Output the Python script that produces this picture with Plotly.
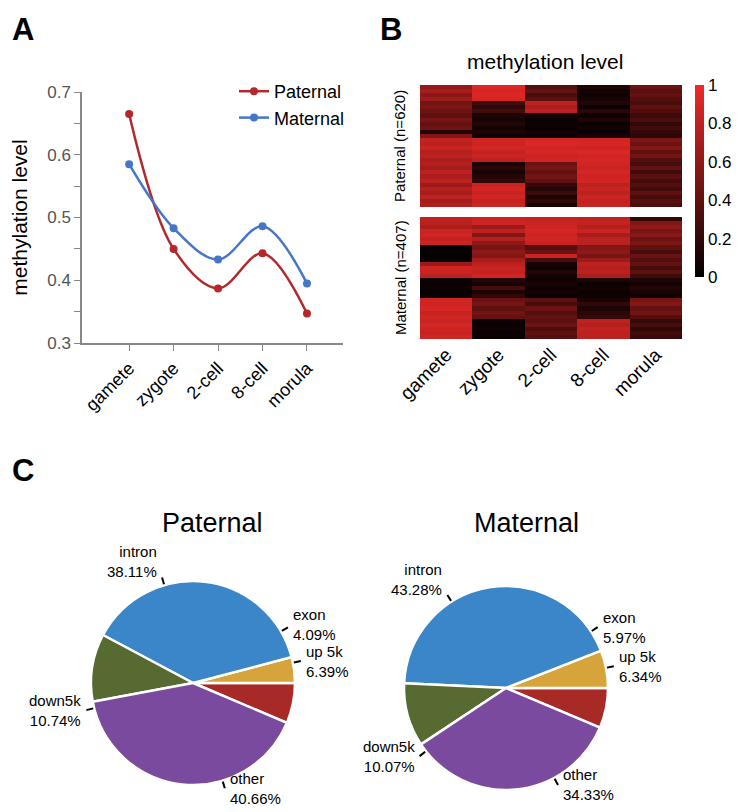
import math
import plotly.graph_objects as go

# ---- data ----
stages = ["gamete", "zygote", "2-cell", "8-cell", "morula"]
paternal_level = [0.665, 0.450, 0.387, 0.443, 0.347]
maternal_level = [0.585, 0.483, 0.433, 0.486, 0.395]

# heatmap rows (top to bottom), columns follow `stages`
heat_paternal = [
    [0.62, 0.92, 0.35, 0.12, 0.45],
    [0.70, 0.90, 0.42, 0.08, 0.38],
    [0.58, 0.93, 0.30, 0.06, 0.42],
    [0.66, 0.90, 0.38, 0.10, 0.35],
    [0.48, 0.25, 0.80, 0.14, 0.30],
    [0.52, 0.20, 0.72, 0.05, 0.40],
    [0.45, 0.28, 0.78, 0.18, 0.33],
    [0.40, 0.12, 0.08, 0.06, 0.25],
    [0.50, 0.10, 0.04, 0.12, 0.32],
    [0.42, 0.15, 0.06, 0.05, 0.20],
    [0.47, 0.08, 0.03, 0.08, 0.28],
    [0.15, 0.12, 0.07, 0.04, 0.22],
    [0.55, 0.06, 0.05, 0.10, 0.18],
    [0.82, 0.88, 0.90, 0.88, 0.52],
    [0.78, 0.85, 0.92, 0.90, 0.45],
    [0.85, 0.90, 0.88, 0.86, 0.55],
    [0.75, 0.82, 0.90, 0.92, 0.40],
    [0.80, 0.86, 0.85, 0.88, 0.48],
    [0.72, 0.80, 0.87, 0.90, 0.35],
    [0.76, 0.12, 0.45, 0.88, 0.30],
    [0.68, 0.18, 0.50, 0.85, 0.42],
    [0.80, 0.10, 0.42, 0.90, 0.25],
    [0.72, 0.15, 0.48, 0.86, 0.38],
    [0.78, 0.20, 0.40, 0.88, 0.28],
    [0.65, 0.85, 0.22, 0.80, 0.35],
    [0.75, 0.90, 0.15, 0.85, 0.28],
    [0.70, 0.84, 0.25, 0.78, 0.40],
    [0.80, 0.88, 0.12, 0.86, 0.30],
    [0.68, 0.82, 0.20, 0.82, 0.36],
    [0.74, 0.86, 0.10, 0.84, 0.32],
]
heat_maternal = [
    [0.80, 0.85, 0.82, 0.80, 0.20],
    [0.78, 0.88, 0.85, 0.82, 0.55],
    [0.72, 0.65, 0.88, 0.75, 0.60],
    [0.85, 0.80, 0.90, 0.85, 0.50],
    [0.88, 0.55, 0.86, 0.70, 0.58],
    [0.82, 0.75, 0.88, 0.80, 0.45],
    [0.86, 0.60, 0.84, 0.78, 0.52],
    [0.02, 0.50, 0.35, 0.55, 0.40],
    [0.03, 0.60, 0.45, 0.60, 0.30],
    [0.02, 0.55, 0.85, 0.50, 0.45],
    [0.03, 0.70, 0.30, 0.65, 0.35],
    [0.65, 0.78, 0.10, 0.80, 0.42],
    [0.88, 0.85, 0.06, 0.75, 0.30],
    [0.85, 0.82, 0.15, 0.78, 0.40],
    [0.80, 0.88, 0.08, 0.72, 0.25],
    [0.05, 0.15, 0.06, 0.12, 0.12],
    [0.04, 0.10, 0.10, 0.04, 0.08],
    [0.06, 0.30, 0.05, 0.08, 0.15],
    [0.03, 0.12, 0.08, 0.05, 0.10],
    [0.05, 0.20, 0.04, 0.06, 0.06],
    [0.88, 0.45, 0.40, 0.10, 0.50],
    [0.86, 0.50, 0.30, 0.20, 0.55],
    [0.90, 0.40, 0.45, 0.12, 0.42],
    [0.84, 0.48, 0.35, 0.18, 0.48],
    [0.88, 0.42, 0.42, 0.22, 0.35],
    [0.85, 0.05, 0.38, 0.80, 0.22],
    [0.90, 0.03, 0.45, 0.75, 0.30],
    [0.86, 0.06, 0.32, 0.82, 0.20],
    [0.84, 0.04, 0.40, 0.78, 0.28],
    [0.88, 0.05, 0.35, 0.80, 0.24],
]

pie_labels = ["up 5k", "exon", "intron", "down5k", "other"]
pie_paternal = [6.39, 4.09, 38.11, 10.74, 40.66]
pie_maternal = [6.34, 5.97, 43.28, 10.07, 34.33]

# ---- style ----
OFF = 8  # page body margin
W, H = 740 - OFF, 812 - OFF
FONT = "Liberation Sans, Arial, sans-serif"
RED = "#B3282B"
BLUE = "#4676C8"
PIE_COLORS = ["#A82A27", "#D6A43A", "#3A86C8", "#566A31", "#7A4A9E"]


def px_x(x):
    return (x - OFF) / W


def px_y(y):
    return 1 - (y - OFF) / H


def note(x, y, text, size, xanchor="center", yanchor="middle", **kw):
    return dict(x=px_x(x), y=px_y(y), xref="paper", yref="paper", text=text,
                xanchor=xanchor, yanchor=yanchor, showarrow=False,
                font=dict(size=size, color="black", family=FONT), **kw)


fig = go.Figure()

# ---- panel A: line chart ----
fig.add_trace(go.Scatter(
    x=stages, y=paternal_level, name="Paternal", mode="lines+markers",
    line=dict(color=RED, width=2.5, shape="spline", smoothing=1.0),
    marker=dict(size=8, color=RED), xaxis="x", yaxis="y"))
fig.add_trace(go.Scatter(
    x=stages, y=maternal_level, name="Maternal", mode="lines+markers",
    line=dict(color=BLUE, width=2.5, shape="spline", smoothing=1.0),
    marker=dict(size=8, color=BLUE), xaxis="x", yaxis="y"))

# ---- panel B: heatmaps ----
fig.add_trace(go.Heatmap(
    z=heat_paternal, x=stages, y=list(range(len(heat_paternal))),
    coloraxis="coloraxis", xaxis="x2", yaxis="y2", hoverinfo="z"))
fig.add_trace(go.Heatmap(
    z=heat_maternal, x=stages, y=list(range(len(heat_maternal))),
    coloraxis="coloraxis", xaxis="x2", yaxis="y3", hoverinfo="z"))

# ---- panel C: pies ----
pies = [
    ("Paternal", pie_paternal, 193, 683, 102),
    ("Maternal", pie_maternal, 506, 688, 102),
]
LABEL_H = 37
shapes = []
annotations = []
for name, vals, cx, cy, r in pies:
    fig.add_trace(go.Pie(
        labels=pie_labels, values=vals, sort=False, direction="counterclockwise",
        rotation=90, textinfo="none", showlegend=False,
        marker=dict(colors=PIE_COLORS, line=dict(color="white", width=2.5)),
        domain=dict(x=[px_x(cx - r), px_x(cx + r)], y=[px_y(cy + r), px_y(cy - r)])))
    total = sum(vals)
    cum = 0
    prev_right = None
    for lab, v in zip(pie_labels, vals):
        mid = math.radians((cum + v / 2) / total * 360)
        cum += v
        c, s = math.cos(mid), math.sin(mid)
        x1, y1 = cx + (r + 1) * c, cy - (r + 1) * s
        x2, y2 = cx + (r + 8) * c, cy - (r + 8) * s
        shapes.append(dict(type="line", xref="paper", yref="paper",
                           x0=px_x(x1), y0=px_y(y1), x1=px_x(x2), y1=px_y(y2),
                           line=dict(color="black", width=2)))
        side = "left" if c > 0 else "right"
        tx = x2 + (3 if c > 0 else -3)
        ty = y2 - LABEL_H / 2 + 3 if s > 0.8 else y2
        if c > 0 and s >= 0:
            # keep stacked labels on the right side apart
            if prev_right is not None and prev_right - ty < LABEL_H:
                ty = prev_right - LABEL_H
            prev_right = ty
        annotations.append(note(tx, ty, f"{lab}<br>{v:.2f}%", 15, xanchor=side,
                                align=side))
    annotations.append(note(cx + 20, 523, name, 27))

# panel letters and other texts
for letter, x, y in [("A", 23, 29), ("B", 391, 29), ("C", 23, 470)]:
    annotations.append(note(x, y, f"<b>{letter}</b>", 31))
annotations.append(note(545, 61, "methylation level", 21))
annotations.append(note(400, 146, "Paternal (n=620)", 15, textangle=-90))
annotations.append(note(400, 278, "Maternal (n=407)", 15, textangle=-90))

fig.update_layout(
    width=W, height=H, margin=dict(l=0, r=0, t=0, b=0, pad=0, autoexpand=False),
    paper_bgcolor="white", plot_bgcolor="white",
    font=dict(family=FONT, color="black"),
    showlegend=True,
    legend=dict(x=px_x(234), y=px_y(73), xanchor="left", yanchor="top",
                font=dict(size=18), bgcolor="rgba(0,0,0,0)", tracegroupgap=0),
    xaxis=dict(domain=[px_x(82), px_x(343)], type="category", range=[-1.06, 4.81],
               showline=True, linecolor="#888", linewidth=1.5, ticks="outside", ticklen=6,
               tickcolor="#888", tickangle=-45, tickfont=dict(size=18, color="black"),
               showgrid=False, zeroline=False, anchor="y", automargin=False),
    yaxis=dict(domain=[px_y(343), px_y(92)], range=[0.3, 0.7], dtick=0.1, tick0=0.3,
               showline=True, linecolor="#888", linewidth=1.5, ticks="outside", ticklen=6,
               tickcolor="#888", tickformat=".1f", tickfont=dict(size=17, color="#555"),
               minor=dict(dtick=0.05, ticks="outside", ticklen=6, tickcolor="#888"),
               showgrid=False, zeroline=False, anchor="x", automargin=False,
               title=dict(text="methylation level", font=dict(size=21, color="black"), standoff=17)),
    xaxis2=dict(domain=[px_x(420), px_x(682)], type="category", range=[-0.5, 4.5], anchor="y3",
                showline=False, ticks="", tickangle=-45, tickfont=dict(size=19, color="black"),
                showgrid=False, zeroline=False, automargin=False),
    yaxis2=dict(domain=[px_y(207), px_y(85)], autorange="reversed", showticklabels=False,
                showgrid=False, zeroline=False, ticks="", anchor="x2", automargin=False),
    yaxis3=dict(domain=[px_y(339), px_y(217)], autorange="reversed", showticklabels=False,
                showgrid=False, zeroline=False, ticks="", anchor="x2", automargin=False),
    coloraxis=dict(cmin=0, cmax=1,
                   colorscale=[[0, "#000000"], [1, "#EE2A28"]],
                   colorbar=dict(x=px_x(695), xanchor="left", y=px_y(181), yanchor="middle",
                                 len=192 / H, lenmode="fraction", thickness=9, outlinewidth=0,
                                 xpad=0, ypad=0,
                                 tickvals=[0, 0.2, 0.4, 0.6, 0.8, 1],
                                 ticktext=["0", "0.2", "0.4", "0.6", "0.8", "1"],
                                 ticks="", tickfont=dict(size=17, color="black"))),
    shapes=shapes,
    annotations=annotations,
)

fig.write_html("out.html")
